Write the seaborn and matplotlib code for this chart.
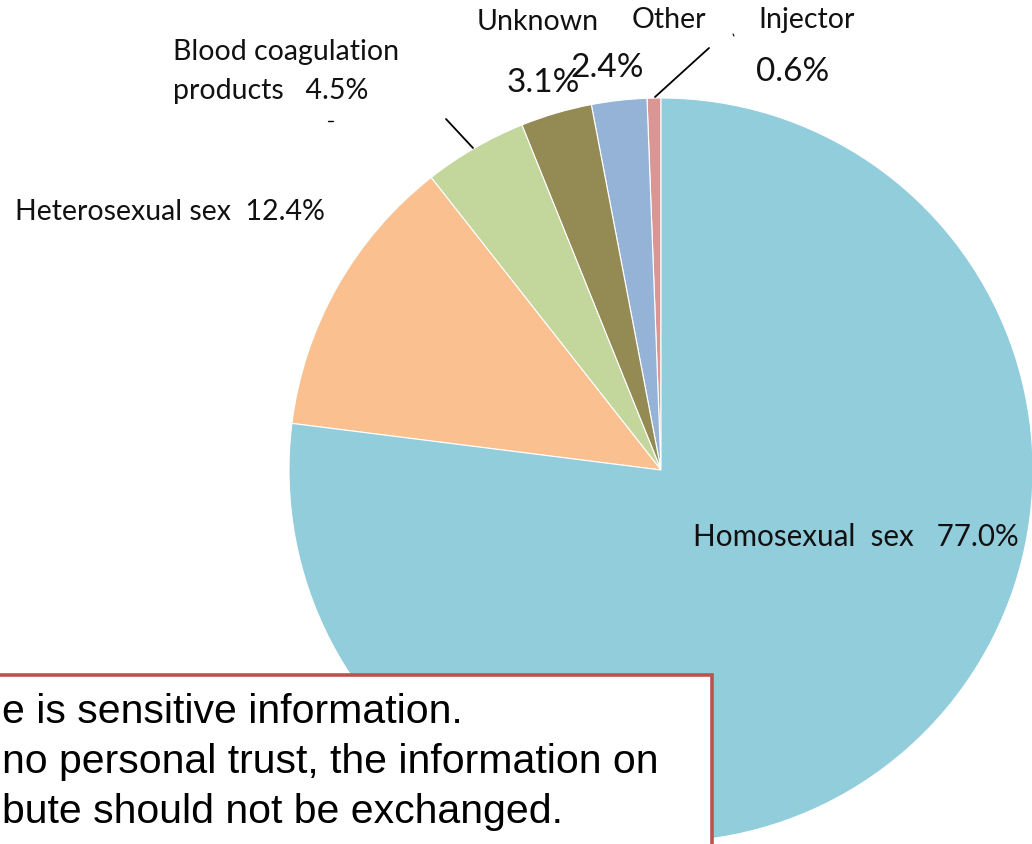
import matplotlib
matplotlib.use("Agg")
import matplotlib.pyplot as plt
import seaborn as sns
from matplotlib.patches import Rectangle

# ---- data ----
categories = ["Injector", "Other", "Unknown", "Blood coagulation products",
              "Heterosexual sex", "Homosexual sex"]
shares = [0.6, 2.4, 3.1, 4.5, 12.4, 77.0]
colors = ["#D99694", "#95B3D7", "#948A54", "#C3D69B", "#FAC090", "#92CDDC"]
note_lines = ["e is sensitive information.",
              "no personal trust, the information on",
              "bute should not be exchanged."]

sns.set_theme(style="white")
plt.rcParams['font.family'] = ['Lato', 'DejaVu Sans']

W, H = 1032, 844
fig = plt.figure(figsize=(W / 100, H / 100), dpi=100)
ax = fig.add_axes([0, 0, 1, 1])

# y axis is inverted (pixel coordinates), so pie direction is mirrored
ax.pie(shares, colors=colors, startangle=-90, counterclock=False,
       center=(661, 470), radius=372,
       wedgeprops=dict(edgecolor="white", linewidth=0.8))
ax.set_xlim(0, W)
ax.set_ylim(H, 0)
ax.set_aspect('auto')
ax.axis('off')

fam = ['Lato', 'DejaVu Sans']
lab = dict(fontsize=20.5, color="#111111", va="center", family=fam)
pct = dict(fontsize=24, color="#111111", va="center", family=fam)

ax.text(173, 52, "Blood coagulation", ha="left", **lab)
ax.text(173, 91, f"products   {shares[3]:.1f}%", ha="left", **lab)
ax.text(15, 212, f"Heterosexual sex  {shares[4]:.1f}%", ha="left", **lab)
ax.text(693, 537, f"Homosexual  sex   {shares[5]:.1f}%", ha="left",
        fontsize=21.3, color="#111111", va="center", family=fam)
ax.text(538, 22, "Unknown", ha="center", **lab)
ax.text(669, 20, "Other", ha="center", **lab)
ax.text(807, 20, "Injector", ha="center", **lab)
ax.text(543, 83, f"{shares[2]:.1f}%", ha="center", **pct)
ax.text(607, 68, f"{shares[1]:.1f}%", ha="center", **pct)
ax.text(793, 72, f"{shares[0]:.1f}%", ha="center", **pct)

# leader lines
ax.plot([446, 473], [119, 148], color="black", lw=1.3)
ax.plot([655, 709], [97, 48], color="black", lw=1.3)
ax.plot([328, 333], [121, 121], color="black", lw=1)
ax.plot([733, 734], [34, 36], color="black", lw=0.8)

# white overlay at right edge
ax.add_patch(Rectangle((1022, 565), 20, 300, facecolor="white", edgecolor="none", zorder=3))

# note box
ax.add_patch(Rectangle((-20, 675), 732, 200, facecolor="white",
                       edgecolor="#C0504D", linewidth=2.6, zorder=4))
for i, line in enumerate(note_lines):
    ax.text(2, 712 + 50 * i, line, ha="left", va="center", fontsize=29.5,
            color="black", family=['Liberation Sans', 'DejaVu Sans'], zorder=5)

fig.savefig("out.png", dpi=100)
